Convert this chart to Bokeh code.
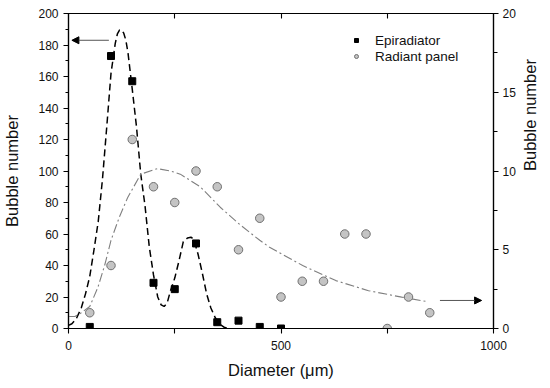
import math
from bokeh.plotting import figure
from bokeh.models import Range1d, LinearAxis, FixedTicker, Arrow, NormalHead
from bokeh.embed import file_html
from bokeh.resources import INLINE

# ---- data ----
epi_d = [50, 100, 150, 200, 250, 300, 350, 400, 450, 500]
epi_n = [1, 173, 157, 29, 25, 54, 4, 5, 1, 0]

rad_d = [50, 100, 150, 200, 250, 300, 350, 400, 450, 500, 550, 600, 650, 700, 750, 800, 850]
rad_n = [1, 4, 12, 9, 8, 10, 9, 5, 7, 2, 3, 3, 6, 6, 0, 2, 1]

# fitted curves
epi_fit_d = [0, 8, 18, 30, 40, 50, 60, 70, 80, 90, 100, 110, 115, 120, 125, 130, 135, 140, 150, 160,
             170, 180, 190, 200, 210, 218, 225, 232, 240, 250, 260, 270, 280, 288, 295, 305,
             315, 325, 335, 345, 355, 365, 375]
epi_fit_n = [2, 3, 6, 13, 22, 33, 50, 68, 95, 128, 162, 181, 187, 189.5, 189.5, 187.5, 183, 175, 152, 128,
             98, 78, 52, 34, 20, 15, 14, 16, 24, 32, 43, 55, 57.5, 58, 56.5, 47,
             35, 22, 13, 7, 3, 1, 0]

rad_fit_d = [0, 15, 30, 50, 69, 85, 100, 120, 139, 170, 209, 240, 263, 310, 357, 403, 450,
             473, 551, 629, 706, 784, 846]
rad_fit_n = [0.76, 0.76, 1.0, 1.4, 2.6, 4.0, 5.6, 7.1, 8.3, 9.8, 10.15, 10.0, 9.8, 9.0, 7.7,
             6.6, 5.6, 5.16, 4.0, 3.04, 2.4, 1.99, 1.7]

x_ticks = [0, 500, 1000]
x_minor = [250, 750]
top_ticks = [250, 500, 750]
left_ticks = list(range(0, 201, 20))
left_minor = list(range(0, 201, 10))
right_ticks = [0, 5, 10, 15, 20]
right_minor = [2.5, 7.5, 12.5, 17.5]

FONT = "Liberation Sans"

p = figure(width=550, height=388, x_range=Range1d(0, 1000), y_range=Range1d(0, 200),
           output_backend="svg", toolbar_location=None,
           min_border_left=67, min_border_right=54, min_border_top=13, min_border_bottom=60)
p.extra_y_ranges = {"right": Range1d(0, 20)}
p.xgrid.grid_line_color = None
p.ygrid.grid_line_color = None
p.outline_line_color = "black"
p.outline_line_width = 1.2
p.background_fill_color = "white"
p.border_fill_color = "white"

def style_axis(ax):
    ax.axis_line_color = "black"
    ax.axis_line_width = 1.2
    ax.major_tick_line_color = "black"
    ax.minor_tick_line_color = "black"
    ax.major_tick_line_width = 1.1
    ax.minor_tick_line_width = 1.1
    ax.major_label_text_font = FONT
    ax.major_label_text_font_size = "12px"
    ax.major_label_text_color = "#111111"
    ax.axis_label_text_font = FONT
    ax.axis_label_text_font_style = "normal"
    ax.axis_label_text_font_size = "16.5px"
    ax.axis_label_text_color = "#111111"

# bottom axis
xa = p.xaxis[0]
xa.ticker = FixedTicker(ticks=x_ticks, minor_ticks=x_minor)
style_axis(xa)
xa.major_tick_in = 0
xa.major_tick_out = 5
xa.minor_tick_in = 0
xa.minor_tick_out = 5
xa.major_label_standoff = 7
xa.axis_label = "Diameter (μm)"
xa.axis_label_standoff = 8

# left axis
ya = p.yaxis[0]
ya.ticker = FixedTicker(ticks=left_ticks, minor_ticks=left_minor)
style_axis(ya)
ya.major_tick_in = 0
ya.major_tick_out = 5
ya.minor_tick_in = 0
ya.minor_tick_out = 3
ya.major_label_standoff = 5
ya.axis_label = "Bubble number"
ya.axis_label_standoff = 14

# right axis
ra = LinearAxis(y_range_name="right", ticker=FixedTicker(ticks=right_ticks, minor_ticks=right_minor))
style_axis(ra)
ra.major_tick_in = 0
ra.major_tick_out = 5
ra.minor_tick_in = 0
ra.minor_tick_out = 4
ra.major_label_standoff = 4
ra.axis_label = "Bubble number"
ra.axis_label_standoff = 11
try:
    ra.axis_label_orientation = math.pi / 2
except (AttributeError, ValueError):
    pass
p.add_layout(ra, "right")

# top axis (ticks only)
ta = LinearAxis(ticker=FixedTicker(ticks=top_ticks, minor_ticks=[]))
style_axis(ta)
ta.major_tick_in = 5
ta.major_tick_out = 0
ta.major_label_overrides = {t: "" for t in top_ticks}
ta.major_label_standoff = 0
p.add_layout(ta, "above")

# fitted curves
p.line(epi_fit_d, epi_fit_n, line_color="black", line_width=1.5, line_dash="7 4")
p.line(rad_fit_d, rad_fit_n, y_range_name="right", line_color="#7f7f7f", line_width=1.1,
       line_dash="9 3 2 3")

# markers
p.scatter(epi_d, epi_n, marker="square", size=7, fill_color="black", line_color="black",
          legend_label="Epiradiator")
p.scatter(rad_d, rad_n, y_range_name="right", marker="circle", size=8.5,
          fill_color="#c4c4c4", line_color="#707070", line_width=1,
          legend_label="Radiant panel")

# arrows indicating the axes
p.add_layout(Arrow(end=NormalHead(size=7, fill_color="black", line_color="black"),
                   x_start=95, y_start=183, x_end=8, y_end=183,
                   line_color="#555555", line_width=1))
p.add_layout(Arrow(end=NormalHead(size=7, fill_color="black", line_color="black"),
                   x_start=874, y_start=1.78, x_end=972, y_end=1.78, y_range_name="right",
                   line_color="#555555", line_width=1))

# legend
lg = p.legend[0]
lg.location = (283, 264)
lg.border_line_color = None
lg.background_fill_alpha = 0
lg.padding = 0
lg.margin = 0
lg.spacing = 0
lg.glyph_width = 10
lg.glyph_height = 16
lg.label_height = 16
lg.label_standoff = 14
lg.label_text_font = FONT
lg.label_text_font_size = "13.5px"
lg.label_text_color = "#111111"

open("out.html", "w").write(file_html(p, INLINE))
